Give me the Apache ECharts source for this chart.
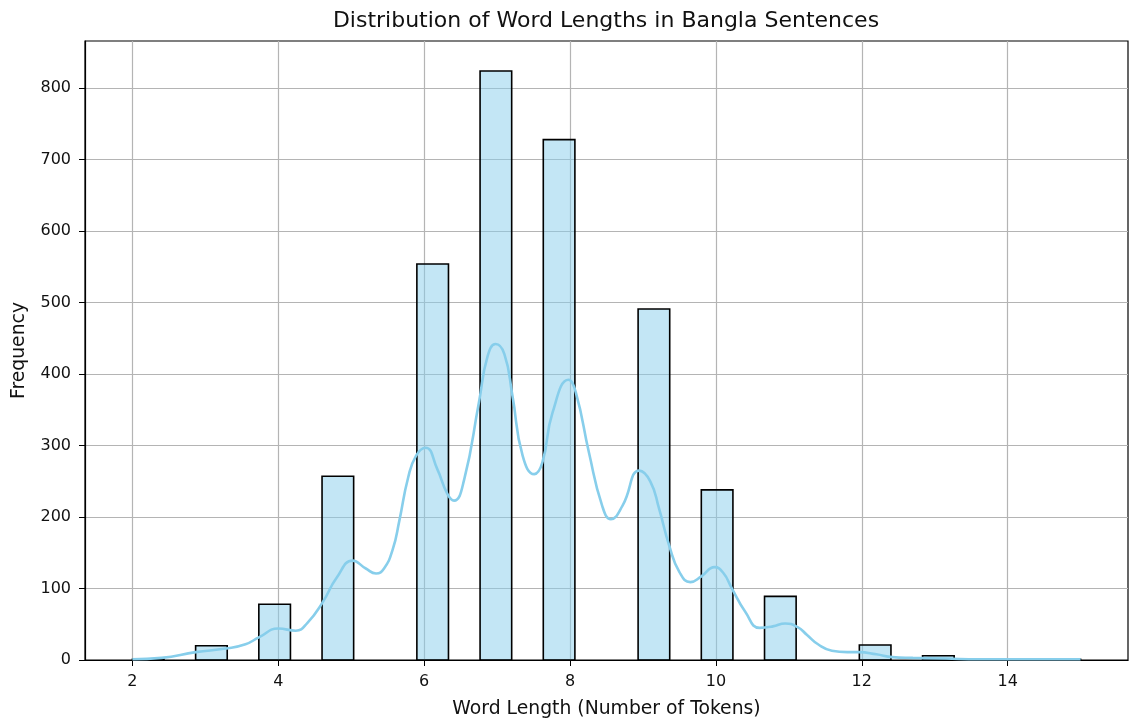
<!DOCTYPE html>
<html>
<head>
<meta charset="utf-8">
<script src="https://cdn.jsdelivr.net/npm/echarts@6/dist/echarts.min.js"></script>
<style>
html, body { margin: 0; padding: 0; background: #fff; }
#main { width: 1130px; height: 724px; }
</style>
</head>
<body>
<div id="main"></div>
<script>
// histogram: 30 bins from 2 to 15
var binStart = 2;
var binWidth = 13 / 30;
var binCounts = [1, 0, 20, 0, 78, 0, 257, 0, 0, 554, 0, 824, 0, 728, 0, 0, 491, 0, 238, 0, 89, 0, 0, 21, 0, 6, 0, 1, 0, 1];

// kde curve
var kdeX = [2.0, 2.4, 2.87, 3.28, 3.55, 3.74, 4.0, 4.24, 4.4, 4.61, 4.8, 5.02, 5.2, 5.34, 5.45, 5.57, 5.66, 5.78, 5.89, 6.02,
    6.18, 6.32, 6.41, 6.55, 6.75, 6.87, 6.98, 7.1, 7.21, 7.35, 7.51, 7.62, 7.76, 7.98, 8.08, 8.26, 8.44, 8.56, 8.72, 8.95,
    9.1, 9.22, 9.36, 9.5, 9.65, 9.8, 9.98, 10.1, 10.22, 10.4, 10.6, 10.78, 10.95, 11.12, 11.25, 11.4, 11.59, 11.8, 11.96,
    12.2, 12.42, 12.7, 13.15, 13.6, 14.0, 15.0];
var kdeY = [1, 3, 11, 16, 22, 32, 44, 41, 52, 81, 115, 139, 128, 121, 128, 155, 195, 255, 286, 297,
    267, 232, 223, 253, 360, 425, 442, 428, 370, 286, 260, 276, 346, 392, 374, 290, 216, 197, 216, 265,
    250, 212, 160, 123, 109, 117, 130, 122, 100, 68, 45, 47, 51, 46, 35, 22, 13, 11, 11,
    8, 4, 3, 2, 1, 1, 1];

var xTicks = [2, 4, 6, 8, 10, 12, 14];
var yTicks = [0, 100, 200, 300, 400, 500, 600, 700, 800];

var barData = [];
for (var i = 0; i < binCounts.length; i++) {
    if (binCounts[i] > 0) {
        barData.push([binStart + i * binWidth, binStart + (i + 1) * binWidth, binCounts[i]]);
    }
}
var kdeData = kdeX.map(function (x, i) { return [x, kdeY[i]]; });

var font = 'DejaVu Sans';
var myChart = echarts.init(document.getElementById('main'));
var option = {
    backgroundColor: '#fff',
    animation: false,
    title: {
        text: 'Distribution of Word Lengths in Bangla Sentences',
        left: 606, top: 10, padding: 0, textAlign: 'center',
        textStyle: { fontFamily: font, fontSize: 22, fontWeight: 'normal', color: '#111' }
    },
    grid: {
        left: 85, right: 2, top: 41, bottom: 63,
        show: true, borderColor: '#000', borderWidth: 1.2, backgroundColor: 'transparent'
    },
    xAxis: {
        type: 'value', min: 1.35, max: 15.65,
        name: 'Word Length (Number of Tokens)', nameLocation: 'middle', nameGap: 40,
        nameTextStyle: { fontFamily: font, fontSize: 18.8, color: '#111' },
        axisLine: { show: true, onZero: false, lineStyle: { color: '#000', width: 1.2 } },
        axisTick: { show: true, length: 6, customValues: xTicks, lineStyle: { color: '#000' } },
        axisLabel: { customValues: xTicks, margin: 14, fontFamily: font, fontSize: 16, color: '#111' },
        splitLine: { show: true, lineStyle: { color: '#b4b4b4', width: 1.2 } }
    },
    yAxis: {
        type: 'value', min: 0, max: 866, interval: 100,
        name: 'Frequency', nameLocation: 'middle', nameGap: 56,
        nameTextStyle: { fontFamily: font, fontSize: 18.8, color: '#111' },
        axisLine: { show: true, lineStyle: { color: '#000', width: 1.2 } },
        axisTick: { show: true, length: 6, customValues: yTicks, lineStyle: { color: '#000' } },
        axisLabel: { customValues: yTicks, margin: 14, fontFamily: font, fontSize: 16, color: '#111' },
        splitLine: { show: true, lineStyle: { color: '#b4b4b4', width: 1.2 } }
    },
    series: [{
        type: 'custom',
        data: barData,
        encode: { x: [0, 1], y: 2 },
        z: 2,
        renderItem: function (params, api) {
            var top = api.coord([api.value(0), api.value(2)]);
            var bottom = api.coord([api.value(1), 0]);
            return {
                type: 'rect',
                shape: { x: top[0], y: top[1], width: bottom[0] - top[0], height: bottom[1] - top[1] },
                style: { fill: 'rgba(135,206,235,0.5)', stroke: '#000', lineWidth: 1.6 }
            };
        }
    }, {
        type: 'line',
        data: kdeData,
        smooth: 0.5,
        showSymbol: false,
        z: 3,
        lineStyle: { color: '#87CEEB', width: 2.6 }
    }]
};
myChart.setOption(option);
</script>
</body>
</html>
